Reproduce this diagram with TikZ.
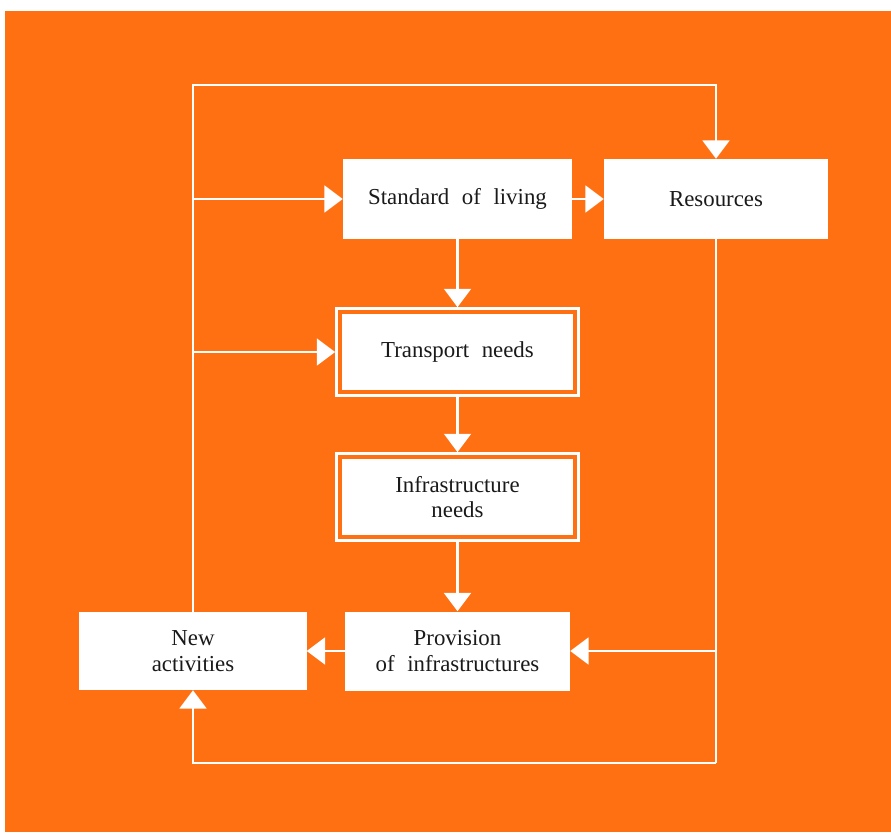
\documentclass[tikz,border=0pt]{standalone}
\usepackage{fontspec}
\setmainfont{Liberation Serif}
\usetikzlibrary{arrows.meta}
\definecolor{sheet}{HTML}{FF7012}
\definecolor{ink}{HTML}{1A1A1A}

\begin{document}
\begin{tikzpicture}[
        x=0.03cm, y=-0.03cm,
        blok/.style={
            fill=white,
            text=ink,
            align=center,
            inner sep=0pt,
            font={\fontsize{19.5}{22}\selectfont\spaceskip=0.55em plus 0.1em}
        },
        needs/.style={
            blok,
            draw=white,
            line width=2.6pt,
            fill=sheet,
            minimum width=7.25cm,
            minimum height=2.6cm,
            path picture={
                \fill[white] ([shift={(0.165cm,0.165cm)}]path picture bounding box.south west)
                    rectangle ([shift={(-0.165cm,-0.165cm)}]path picture bounding box.north east);
            }
        },
        conn/.style={
            draw=white,
            line width=2.5pt,
            -{Triangle[width=0.8cm,length=0.55cm]}
        },
        wire/.style={
            draw=white,
            line width=2.5pt
        }
    ]

    \useasboundingbox (0,0) rectangle (891,832);
    \fill[white] (0,0) rectangle (891,832);
    \fill[sheet] (5,11) rectangle (891,832);

    \node[blok, minimum width=6.87cm, minimum height=2.4cm] (living) at (457.5,199) {Standard of living};
    \node[blok, minimum width=6.72cm, minimum height=2.4cm] (res) at (716,199) {Resources};
    \node[needs] (transport) at (457.5,352) {Transport needs};
    \node[needs] (infra) at (457.5,497) {Infrastructure\\needs};
    \node[blok, minimum width=6.75cm, minimum height=2.37cm] (prov) at (457.5,651) {Provision\\of infrastructures};
    \node[blok, minimum width=6.81cm, minimum height=2.34cm] (newact) at (193,651) {New\\activities};

    \coordinate (topleft) at (193,85);
    \coordinate (topright) at (716,85);
    \coordinate (b1) at (193,199);
    \coordinate (b2) at (193,352);
    \coordinate (r1) at (716,651);
    \coordinate (botright) at (716,763);
    \coordinate (botleft) at (193,763);

    % feedback loop round the top
    \draw[conn] (newact.north) -- (topleft) -- (topright) -- (res.north);
    \draw[conn] (b1) -- (living.west);
    \draw[conn] (b2) -- (transport.west);

    % main chain
    \draw[conn] (living.east) -- (res.west);
    \draw[conn] (living.south) -- (transport.north);
    \draw[conn] (transport.south) -- (infra.north);
    \draw[conn] (infra.south) -- (prov.north);
    \draw[conn] (prov.west) -- (newact.east);

    % resources feeding down
    \draw[wire] (res.south) -- (botright);
    \draw[conn] (r1) -- (prov.east);
    \draw[conn] (botright) -- (botleft) -- (newact.south);

    \end{tikzpicture}
\end{document}
